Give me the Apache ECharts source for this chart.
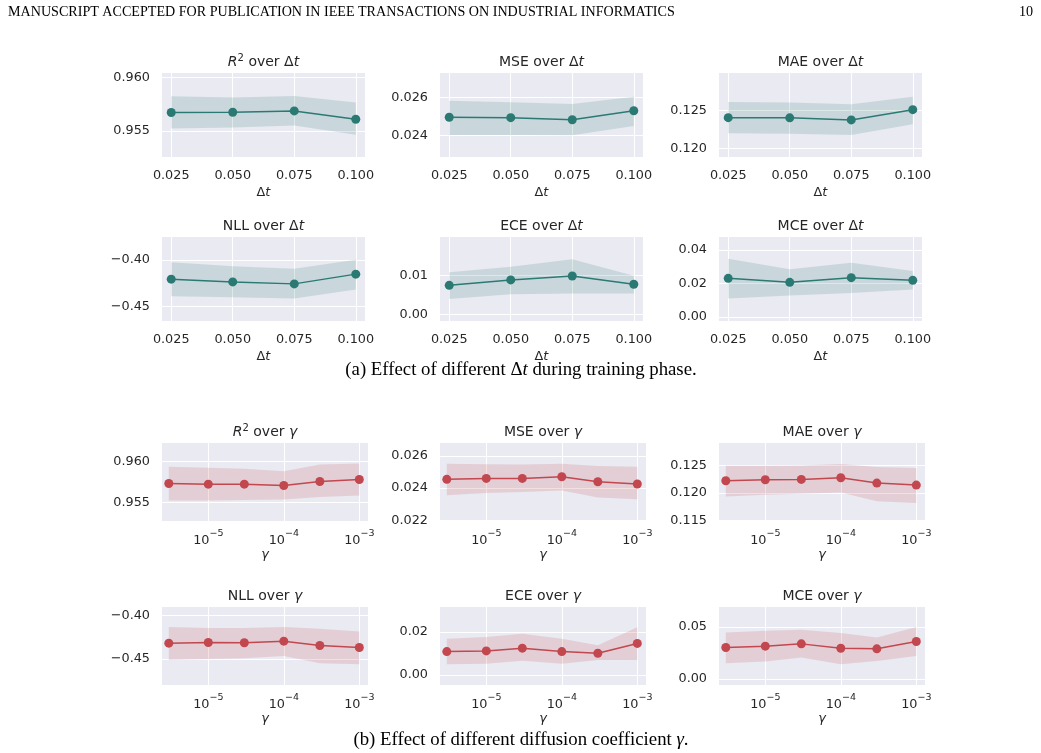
<!DOCTYPE html>
<html>
<head>
<meta charset="utf-8">
<script src="https://cdn.jsdelivr.net/npm/echarts@6/dist/echarts.min.js"></script>
<style>
  html, body { margin: 0; padding: 0; background: #fff; }
  #chart { width: 1041px; height: 753px; }
</style>
</head>
<body>
<div id="chart"></div>
<script>
// x values
const dt = [0.025, 0.05, 0.075, 0.1];
const gamma = [3e-6, 1e-5, 3e-5, 1e-4, 3e-4, 1e-3];
const dtTicks = [0.025, 0.05, 0.075, 0.1];
const gammaTicks = [1e-5, 1e-4, 1e-3];

// (a) metrics over dt: mean, lower, upper
const r2Dt   = [0.95673, 0.95676, 0.95688, 0.95611];
const r2DtLo = [0.95525, 0.95534, 0.95553, 0.95466];
const r2DtHi = [0.95824, 0.95812, 0.95827, 0.95766];

const mseDt   = [0.02496, 0.02494, 0.02483, 0.02530];
const mseDtLo = [0.02404, 0.02404, 0.02403, 0.02450];
const mseDtHi = [0.02582, 0.02574, 0.02565, 0.02603];

const maeDt   = [0.12407, 0.12405, 0.12377, 0.12513];
const maeDtLo = [0.12199, 0.12195, 0.12177, 0.12320];
const maeDtHi = [0.12615, 0.12610, 0.12585, 0.12685];

const nllDt   = [-0.4207, -0.4236, -0.4257, -0.4153];
const nllDtLo = [-0.4389, -0.4400, -0.4414, -0.4318];
const nllDtHi = [-0.4025, -0.4068, -0.4096, -0.4000];

const eceDt   = [0.0075, 0.0089, 0.0099, 0.0078];
const eceDtLo = [0.0040, 0.0052, 0.0054, 0.0054];
const eceDtHi = [0.0109, 0.0123, 0.0142, 0.0100];

const mceDt   = [0.0230, 0.0206, 0.0234, 0.0218];
const mceDtLo = [0.0110, 0.0128, 0.0142, 0.0164];
const mceDtHi = [0.0346, 0.0284, 0.0322, 0.0274];

// (b) metrics over gamma
const r2G   = [0.95732, 0.95724, 0.95724, 0.95708, 0.95756, 0.95780];
const r2GLo = [0.95528, 0.95528, 0.95532, 0.95540, 0.95568, 0.95588];
const r2GHi = [0.95933, 0.95921, 0.95909, 0.95880, 0.95960, 0.95972];

const mseG   = [0.02455, 0.02461, 0.02461, 0.02471, 0.02440, 0.02426];
const mseGLo = [0.02355, 0.02370, 0.02376, 0.02386, 0.02341, 0.02331];
const mseGHi = [0.02553, 0.02549, 0.02547, 0.02553, 0.02539, 0.02533];

const maeG   = [0.12223, 0.12241, 0.12247, 0.12277, 0.12181, 0.12145];
const maeGLo = [0.11939, 0.11970, 0.11988, 0.12011, 0.11853, 0.11822];
const maeGHi = [0.12495, 0.12495, 0.12500, 0.12525, 0.12471, 0.12453];

const nllG   = [-0.4317, -0.4310, -0.4313, -0.4294, -0.4344, -0.4367];
const nllGLo = [-0.4508, -0.4497, -0.4489, -0.4463, -0.4546, -0.4557];
const nllGHi = [-0.4133, -0.4145, -0.4145, -0.4133, -0.4153, -0.4183];

const eceG   = [0.0109, 0.0112, 0.0125, 0.0109, 0.0101, 0.0147];
const eceGLo = [0.0050, 0.0052, 0.0066, 0.0052, 0.0070, 0.0070];
const eceGHi = [0.0169, 0.0177, 0.0192, 0.0169, 0.0138, 0.0223];

const mceG   = [0.0303, 0.0316, 0.0338, 0.0296, 0.0290, 0.0361];
const mceGLo = [0.0152, 0.0168, 0.0206, 0.0142, 0.0174, 0.0222];
const mceGHi = [0.0448, 0.0464, 0.0474, 0.0442, 0.0400, 0.0500];

// y tick values
const r2DtTicks = [0.955, 0.96];
const mseDtTicks = [0.024, 0.026];
const maeDtTicks = [0.12, 0.125];
const nllDtTicks = [-0.45, -0.4];
const eceDtTicks = [0, 0.01];
const mceDtTicks = [0, 0.02, 0.04];
const r2GTicks = [0.955, 0.96];
const mseGTicks = [0.022, 0.024, 0.026];
const maeGTicks = [0.115, 0.12, 0.125];
const nllGTicks = [-0.45, -0.4];
const eceGTicks = [0, 0.02];
const mceGTicks = [0, 0.05];

const TEXT = '#262626';
const FONT = 'DejaVu Sans';
const SERIF = 'Liberation Serif';
const TEAL = '#2a7a73', TEAL_BAND = 'rgba(42,122,115,0.17)';
const RED = '#c2474e', RED_BAND = 'rgba(194,71,78,0.17)';

const colLeft = [162, 440, 719];
const rows = [
  { top: 73, h: 84, w: 203 },
  { top: 237, h: 84, w: 203 },
  { top: 443, h: 78, w: 206 },
  { top: 607, h: 78, w: 206 }
];

const panels = [
  { title: '{i|R}{s|2}{n| over Δ}{i|t}', mean: r2Dt, lo: r2DtLo, hi: r2DtHi, ticks: r2DtTicks, dec: 3, ext: [0.9526, 0.9604] },
  { title: '{n|MSE over Δ}{i|t}', mean: mseDt, lo: mseDtLo, hi: mseDtHi, ticks: mseDtTicks, dec: 3, ext: [0.02289, 0.02727] },
  { title: '{n|MAE over Δ}{i|t}', mean: maeDt, lo: maeDtLo, hi: maeDtHi, ticks: maeDtTicks, dec: 3, ext: [0.11885, 0.1300] },
  { title: '{n|NLL over Δ}{i|t}', mean: nllDt, lo: nllDtLo, hi: nllDtHi, ticks: nllDtTicks, dec: 2, ext: [-0.4653, -0.3757] },
  { title: '{n|ECE over Δ}{i|t}', mean: eceDt, lo: eceDtLo, hi: eceDtHi, ticks: eceDtTicks, dec: 2, ext: [-0.00165, 0.01992] },
  { title: '{n|MCE over Δ}{i|t}', mean: mceDt, lo: mceDtLo, hi: mceDtHi, ticks: mceDtTicks, dec: 2, ext: [-0.0024, 0.0476] },
  { title: '{i|R}{s|2}{n| over }{i|γ}', mean: r2G, lo: r2GLo, hi: r2GHi, ticks: r2GTicks, dec: 3, ext: [0.9528, 0.9622] },
  { title: '{n|MSE over }{i|γ}', mean: mseG, lo: mseGLo, hi: mseGHi, ticks: mseGTicks, dec: 3, ext: [0.02195, 0.02682] },
  { title: '{n|MAE over }{i|γ}', mean: maeG, lo: maeGLo, hi: maeGHi, ticks: maeGTicks, dec: 3, ext: [0.11495, 0.12906] },
  { title: '{n|NLL over }{i|γ}', mean: nllG, lo: nllGLo, hi: nllGHi, ticks: nllGTicks, dec: 2, ext: [-0.4795, -0.3904] },
  { title: '{n|ECE over }{i|γ}', mean: eceG, lo: eceGLo, hi: eceGHi, ticks: eceGTicks, dec: 2, ext: [-0.0047, 0.0317] },
  { title: '{n|MCE over }{i|γ}', mean: mceG, lo: mceGLo, hi: mceGHi, ticks: mceGTicks, dec: 2, ext: [-0.0058, 0.0693] }
];

const titleRich = {
  n: { fontFamily: FONT, fontSize: 14, fontWeight: 'normal', color: TEXT, lineHeight: 18 },
  i: { fontFamily: FONT, fontSize: 14, fontWeight: 'normal', color: TEXT, fontStyle: 'italic', lineHeight: 18 },
  s: { fontFamily: FONT, fontSize: 10, fontWeight: 'normal', color: TEXT, lineHeight: 11, verticalAlign: 'top' }
};
const labelRich = {
  b: { fontFamily: FONT, fontSize: 12.8, color: TEXT, lineHeight: 18, verticalAlign: 'bottom' },
  s: { fontFamily: FONT, fontSize: 9.5, color: TEXT, lineHeight: 11, verticalAlign: 'top' },
  n: { fontFamily: FONT, fontSize: 12.8, color: TEXT },
  i: { fontFamily: FONT, fontSize: 12.8, color: TEXT, fontStyle: 'italic' }
};
const captionRich = {
  n: { fontFamily: SERIF, fontSize: 18.8, fontWeight: 'normal', color: '#000' },
  i: { fontFamily: SERIF, fontSize: 18.8, fontWeight: 'normal', color: '#000', fontStyle: 'italic' }
};
const headStyle = { fontFamily: SERIF, fontSize: 14.1, fontWeight: 'normal', color: '#000' };

const fmtNum = (v, d) => v.toFixed(d).replace('-', '\u2212');

const grids = [], xAxes = [], yAxes = [], series = [];
const titles = [
  { text: 'MANUSCRIPT ACCEPTED FOR PUBLICATION IN IEEE TRANSACTIONS ON INDUSTRIAL INFORMATICS',
    left: 8, top: 5, padding: 0, textStyle: headStyle },
  { text: '10', right: 8, top: 5, padding: 0, textStyle: headStyle },
  { text: '{n|(a) Effect of different Δ}{i|t}{n| during training phase.}', left: 521, top: 361, padding: 0,
    textAlign: 'center', textStyle: { fontWeight: 'normal', rich: captionRich } },
  { text: '{n|(b) Effect of different diffusion coefficient }{i|γ}{n|.}', left: 521, top: 731, padding: 0,
    textAlign: 'center', textStyle: { fontWeight: 'normal', rich: captionRich } }
];

panels.forEach((p, k) => {
  const r = rows[Math.floor(k / 3)];
  const left = colLeft[k % 3];
  const isDt = k < 6;
  const xs = isDt ? dt : gamma;
  const color = isDt ? TEAL : RED;
  const band = isDt ? TEAL_BAND : RED_BAND;

  grids.push({ left: left, top: r.top, width: r.w, height: r.h, show: true,
    backgroundColor: '#eaeaf2', borderWidth: 0 });

  titles.push({ text: p.title, left: left + r.w / 2, top: r.top - 20, padding: 0, textAlign: 'center',
    textStyle: { fontWeight: 'normal', rich: titleRich } });

  const xTicks = isDt ? dtTicks : gammaTicks;
  xAxes.push({
    gridIndex: k,
    type: isDt ? 'value' : 'log',
    logBase: 10,
    min: isDt ? 0.02125 : Math.pow(10, -5.613),
    max: isDt ? 0.10375 : Math.pow(10, -2.885),
    axisLine: { show: false },
    axisTick: { show: false, customValues: xTicks },
    axisLabel: {
      customValues: xTicks,
      margin: isDt ? 12 : 8,
      color: TEXT, fontFamily: FONT, fontSize: 12.8,
      rich: labelRich,
      formatter: v => isDt ? v.toFixed(3)
        : '{b|10}{s|\u2212' + Math.round(-Math.log10(v)) + '}'
    },
    splitLine: { show: true, lineStyle: { color: '#fff', width: 1 } },
    name: isDt ? '{n|Δ}{i|t}' : '{i|γ}',
    nameLocation: 'middle',
    nameGap: isDt ? 29 : 24,
    nameTextStyle: { rich: labelRich }
  });

  yAxes.push({
    gridIndex: k,
    type: 'value',
    min: p.ext[0],
    max: p.ext[1],
    axisLine: { show: false },
    axisTick: { show: false, customValues: p.ticks },
    axisLabel: {
      customValues: p.ticks,
      margin: 12,
      color: TEXT, fontFamily: FONT, fontSize: 12.8,
      formatter: v => fmtNum(v, p.dec)
    },
    splitLine: { show: true, lineStyle: { color: '#fff', width: 1 } }
  });

  series.push({
    type: 'custom',
    xAxisIndex: k, yAxisIndex: k,
    silent: true,
    z: 1,
    data: xs.map((x, i) => [x, p.lo[i], p.hi[i]]),
    encode: { x: 0, y: [1, 2] },
    renderItem: (params, api) => {
      if (params.dataIndex !== 0) return null;
      const upper = xs.map((x, i) => api.coord([x, p.hi[i]]));
      const lower = xs.map((x, i) => api.coord([x, p.lo[i]])).reverse();
      return { type: 'polygon', shape: { points: upper.concat(lower) }, style: { fill: band } };
    }
  });

  series.push({
    type: 'line',
    xAxisIndex: k, yAxisIndex: k,
    z: 3,
    data: xs.map((x, i) => [x, p.mean[i]]),
    symbol: 'circle',
    symbolSize: 9,
    showSymbol: true,
    lineStyle: { color: color, width: 1.5 },
    itemStyle: { color: color }
  });
});

const chart = echarts.init(document.getElementById('chart'), null, { renderer: 'canvas' });
chart.setOption({
  animation: false,
  backgroundColor: '#fff',
  title: titles,
  grid: grids,
  xAxis: xAxes,
  yAxis: yAxes,
  series: series
});
</script>
</body>
</html>
